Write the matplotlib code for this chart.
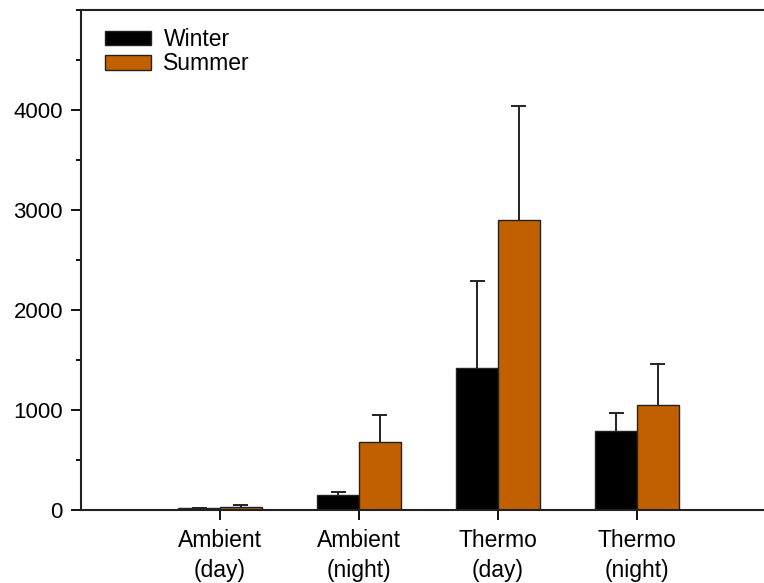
import matplotlib.pyplot as plt
import numpy as np
from matplotlib.ticker import MultipleLocator

# values read per condition
categories = ["Ambient\n(day)", "Ambient\n(night)", "Thermo\n(day)", "Thermo\n(night)"]
winter = [17, 150, 1413, 783]
winter_err = [0, 30, 870, 184]
summer = [30, 673, 2900, 1043]
summer_err = [13, 277, 1140, 417]

plt.rcParams["font.family"] = ["Liberation Sans", "DejaVu Sans"]
plt.rcParams["font.size"] = 16

fig = plt.figure(figsize=(7.64, 5.83), dpi=100)
ax = fig.add_axes([81 / 764, 73.5 / 583, 695 / 764, 499.5 / 583])

x = np.arange(1, len(categories) + 1)
w = 0.3
cap = 0.054
orange = "#C06000"
edge = "#222222"


def upper_errors(pos, vals, errs):
    # one-sided error bars: stem from the bar top, cap on the upper end
    vals = np.asarray(vals)
    tops = vals + np.asarray(errs)
    ax.vlines(pos, 0, tops, color=edge, linewidth=1.4, zorder=1)
    ax.hlines(tops, pos - cap, pos + cap, color=edge, linewidth=1.4, zorder=1)


ax.bar(x - w / 2, winter, w, color="black", edgecolor=edge, linewidth=1,
       label="Winter", zorder=2)
ax.bar(x + w / 2, summer, w, color=orange, edgecolor=edge, linewidth=1,
       label="Summer", zorder=2)
upper_errors(x - w / 2, winter, winter_err)
upper_errors(x + w / 2, summer, summer_err)

ax.set_xlim(0, 5)
ax.set_ylim(0, 5000)
ax.set_xticks(x)
ax.set_xticklabels(categories, linespacing=1.4, fontsize=16.5)
ax.set_yticks([0, 1000, 2000, 3000, 4000])
ax.yaxis.set_minor_locator(MultipleLocator(500))

for s in ["left", "top", "bottom"]:
    ax.spines[s].set_linewidth(1.5)
    ax.spines[s].set_color(edge)
ax.spines["right"].set_visible(False)

ax.tick_params(axis="y", which="major", length=7, width=1.3, direction="out", pad=6)
ax.tick_params(axis="y", which="minor", length=3.5, width=1.3, direction="out")
ax.tick_params(axis="x", length=7, width=1.3, direction="out", pad=7)

ax.legend(loc="upper left", bbox_to_anchor=(24 / 695, 1 - 18 / 499.5), frameon=False,
          handlelength=2.0, handleheight=0.62, handletextpad=0.55,
          labelspacing=0.06, borderpad=0, borderaxespad=0, fontsize=16.5)

fig.savefig("out.png", dpi=100)
